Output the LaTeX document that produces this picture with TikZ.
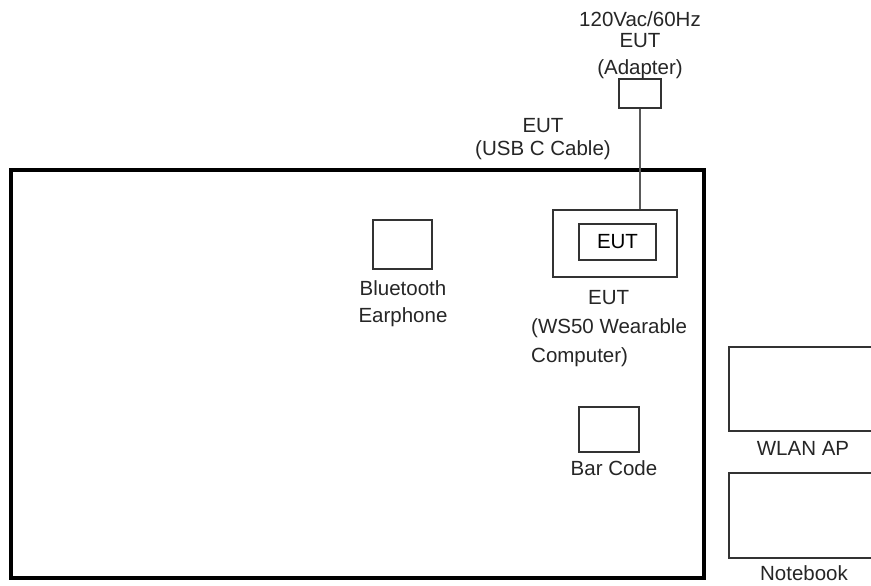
\documentclass[tikz,border=0pt]{standalone}
\usepackage{fontspec}
\setmainfont{Liberation Sans}
\usetikzlibrary{positioning}
\tikzset{
  unit/.style={draw=black!80,line width=1.4pt,fill=white,inner sep=0pt},
  frame/.style={draw=black,line width=4.5pt},
  cable/.style={draw=black!65,line width=1.4pt},
  lbl/.style={inner sep=0pt,anchor=base,align=center,text=black!85},
}
\begin{document}
\begin{tikzpicture}[x=1pt,y=-1pt,font=\fontsize{20.5}{20}\selectfont]
  \clip (0,0) rectangle (871,586);
  \fill[white] (0,0) rectangle (871,586);
  % set-up frame and units
  \draw[frame] (11,170) rectangle (704,578);
  \node[unit,minimum width=42,minimum height=29] (adapter) at (640,93.5) {};
  \node[unit,minimum width=124,minimum height=67] (eutout) at (615,243.5) {};
  \node[unit,minimum width=77,minimum height=36] (eutin) at (617.5,242) {EUT};
  \draw[cable] (adapter.south) -- (eutout.north -| adapter.south);
  \node[unit,minimum width=59,minimum height=49] (bt) at (402.5,244.5) {};
  \node[unit,minimum width=60,minimum height=45] (bar) at (609,429.5) {};
  \node[unit,minimum width=170,minimum height=84] (ap) at (814,389) {};
  \node[unit,minimum width=170,minimum height=85] (nb) at (814,515.5) {};
  % labels (base = last line)
  \node[lbl] (adlbl) at (640,75) {120Vac/60Hz\\EUT\\[8pt](Adapter)};
  \node[lbl] (cablbl) at (543,155) {EUT\\[3pt](USB C Cable)};
  \node[lbl] (btlbl) at (403,322) {Bluetooth\\[7pt]Earphone};
  \node[lbl,anchor=base west,align=left] (eutlbl) at (531,362)
    {\hspace*{57pt}EUT\\[9pt](WS50 Wearable\\[9pt]Computer)};
  \node[lbl] (barlbl) at (614,475) {Bar Code};
  \node[lbl] (aplbl) at (803,455) {WLAN AP};
  \node[lbl] (nblbl) at (804,580) {Notebook};
\end{tikzpicture}
\end{document}
